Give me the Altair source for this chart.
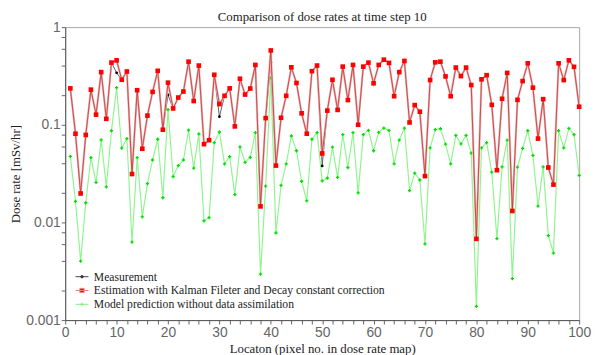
import altair as alt
import pandas as pd

locations = list(range(1, 101))

measurement = [
    0.236, 0.081, 0.0198, 0.0787, 0.229, 0.127, 0.346, 0.115, 0.433, 0.340,
    0.289, 0.351, 0.0313, 0.226, 0.0568, 0.124, 0.217, 0.357, 0.089, 0.202,
    0.147, 0.190, 0.219, 0.443, 0.175, 0.404, 0.0633, 0.0695, 0.325, 0.121,
    0.198, 0.236, 0.0962, 0.296, 0.204, 0.235, 0.410, 0.0146, 0.117, 0.436,
    0.0382, 0.118, 0.198, 0.388, 0.268, 0.131, 0.081, 0.354, 0.404, 0.0379,
    0.1396, 0.289, 0.142, 0.394, 0.179, 0.410, 0.100, 0.394, 0.433, 0.266,
    0.410, 0.464, 0.430, 0.196, 0.346, 0.450, 0.1056, 0.159, 0.136, 0.0298,
    0.287, 0.436, 0.443, 0.313, 0.196, 0.385, 0.315, 0.385, 0.255, 0.00679,
    0.292, 0.322, 0.160, 0.0343, 0.1845, 0.340, 0.0131, 0.180, 0.280, 0.426,
    0.240, 0.0722, 0.183, 0.0365, 0.0244, 0.426, 0.287, 0.457, 0.392, 0.153,
]

estimation = [
    0.236, 0.081, 0.0198, 0.0787, 0.229, 0.127, 0.346, 0.115, 0.433, 0.457,
    0.289, 0.351, 0.0313, 0.226, 0.0568, 0.124, 0.217, 0.357, 0.089, 0.270,
    0.147, 0.190, 0.219, 0.443, 0.175, 0.404, 0.0633, 0.0695, 0.325, 0.163,
    0.198, 0.236, 0.0962, 0.296, 0.204, 0.235, 0.410, 0.0146, 0.117, 0.577,
    0.0382, 0.118, 0.198, 0.388, 0.268, 0.131, 0.081, 0.354, 0.404, 0.0509,
    0.1396, 0.289, 0.142, 0.394, 0.179, 0.410, 0.100, 0.394, 0.433, 0.266,
    0.410, 0.464, 0.430, 0.196, 0.346, 0.450, 0.1056, 0.159, 0.136, 0.0298,
    0.287, 0.436, 0.443, 0.313, 0.196, 0.385, 0.315, 0.385, 0.255, 0.00679,
    0.292, 0.322, 0.160, 0.0343, 0.1845, 0.340, 0.0131, 0.180, 0.280, 0.426,
    0.240, 0.0722, 0.183, 0.0365, 0.0244, 0.426, 0.287, 0.457, 0.392, 0.153,
]

model = [
    0.0475, 0.0164, 0.00401, 0.0159, 0.046, 0.0257, 0.070, 0.0231, 0.0869, 0.240,
    0.0577, 0.0722, 0.00628, 0.046, 0.0114, 0.0250, 0.0436, 0.0711, 0.0179, 0.143,
    0.0294, 0.0382, 0.0436, 0.0883, 0.0360, 0.0805, 0.0104, 0.0112, 0.0658, 0.0843,
    0.0397, 0.0471, 0.0193, 0.0595, 0.0413, 0.0464, 0.0830, 0.00296, 0.0235, 0.303,
    0.0078, 0.0240, 0.0397, 0.0768, 0.0542, 0.0264, 0.0166, 0.0711, 0.0830, 0.0266,
    0.0285, 0.0590, 0.0289, 0.0793, 0.0365, 0.0830, 0.0201, 0.0793, 0.0877, 0.0542,
    0.0837, 0.0925, 0.0877, 0.0397, 0.0695, 0.0925, 0.0212, 0.0320, 0.0272, 0.00604,
    0.0581, 0.0890, 0.0911, 0.0633, 0.0397, 0.0780, 0.0638, 0.0780, 0.0513, 0.00138,
    0.0581, 0.0658, 0.0327, 0.00684, 0.0371, 0.0695, 0.00266, 0.0368, 0.0573, 0.0869,
    0.0486, 0.0147, 0.0371, 0.00733, 0.00486, 0.0869, 0.0581, 0.0918, 0.0793, 0.0303,
]

series_names = [
    "Measurement",
    "Estimation with Kalman Fileter and Decay constant correction",
    "Model prediction without data assimilation",
]

x_tick_values = list(range(0, 101, 2))
y_tick_values = [0.001, 0.002, 0.004, 0.006, 0.008,
                 0.01, 0.02, 0.04, 0.06, 0.08,
                 0.1, 0.2, 0.4, 0.6, 0.8, 1]

df_meas = pd.DataFrame({"x": locations, "v": measurement})
df_est = pd.DataFrame({"x": locations, "v": estimation})
df_model = pd.DataFrame({"x": locations, "v": model})
df_legend = pd.DataFrame({"x": [1, 1, 1], "v": [0.1, 0.1, 0.1], "s": series_names})

x_enc = alt.X(
    "x:Q",
    scale=alt.Scale(domain=[0, 100], nice=False, zero=False),
    axis=alt.Axis(
        title="Locaton (pixel no. in dose rate map)",
        values=x_tick_values,
        labelExpr="datum.value % 10 === 0 ? datum.label : ''",
        labelOverlap=False,
        labelFlush=False,
        labelPadding=2,
        titlePadding=3,
    ),
)
y_enc = alt.Y(
    "v:Q",
    scale=alt.Scale(type="log", domain=[0.001, 1], nice=False),
    axis=alt.Axis(
        title="Dose rate [mSv/hr]",
        values=y_tick_values,
        format=".3~f",
        labelExpr="abs(log(datum.value)/LN10 - round(log(datum.value)/LN10)) < 0.001 ? datum.label : ''",
        labelOverlap=False,
        labelPadding=1,
        titlePadding=3,
    ),
)

model_line = alt.Chart(df_model).mark_line(color="#90f590", strokeWidth=1.2).encode(x=x_enc, y=y_enc)
model_pts = alt.Chart(df_model).mark_point(shape="cross", filled=True, size=11, color="#00e000", opacity=1).encode(x=x_enc, y=y_enc)

meas_line = alt.Chart(df_meas).mark_line(color="#606060", strokeWidth=1).encode(x=x_enc, y=y_enc)
meas_pts = alt.Chart(df_meas).mark_circle(size=8, color="#000000", opacity=1).encode(x=x_enc, y=y_enc)

est_glow = alt.Chart(df_est).mark_line(color="#f5b5b5", strokeWidth=2.2).encode(x=x_enc, y=y_enc)
est_line = alt.Chart(df_est).mark_line(color="#b83030", strokeWidth=0.8).encode(x=x_enc, y=y_enc)
est_pts = alt.Chart(df_est).mark_square(size=22, color="#ff0000", opacity=1).encode(x=x_enc, y=y_enc)

legend_paths = [
    "M-1,0H1M-0.2,0A0.2,0.2 0 1,0 0.2,0A0.2,0.2 0 1,0 -0.2,0Z",
    "M-1,0H1M-0.33,-0.33H0.33V0.33H-0.33Z",
    "M-1,0H1M-0.28,0H0.28M0,-0.28V0.28",
]
legend_fill = ["#000000", "#ff0000", "#00e000"]
legend_stroke = ["#444444", "#f08080", "#80f080"]

legend_props = dict(
    title=None,
    orient="none",
    legendX=10,
    legendY=246,
    padding=0,
    rowPadding=0,
    symbolSize=169,
    symbolStrokeWidth=1,
    symbolOpacity=1,
    labelFont="Liberation Serif",
    labelFontSize=11.8,
    labelColor="#222222",
    labelLimit=500,
    labelOffset=5,
)

legend_layer = alt.Chart(df_legend).mark_point(size=169, filled=True, strokeWidth=1, opacity=1).encode(
    x=x_enc,
    y=y_enc,
    fill=alt.Fill("s:N", scale=alt.Scale(domain=series_names, range=legend_fill), legend=alt.Legend(**legend_props)),
    stroke=alt.Stroke("s:N", scale=alt.Scale(domain=series_names, range=legend_stroke), legend=alt.Legend(**legend_props)),
    shape=alt.Shape("s:N", scale=alt.Scale(domain=series_names, range=legend_paths), legend=alt.Legend(**legend_props)),
).transform_filter("false")

chart = alt.layer(
    model_line, model_pts, meas_line, meas_pts, est_glow, est_line, est_pts, legend_layer
).properties(
    width=521,
    height=297,
    title="Comparison of dose rates at time step 10",
    autosize=alt.AutoSizeParams(type="none"),
    padding={"left": 58, "top": 17, "right": 12, "bottom": 33},
).configure_view(
    stroke="#a8a8a8", strokeWidth=1
).configure_axis(
    grid=False,
    domainColor="#555555",
    tickColor="#666666",
    tickSize=4,
    labelColor="#666666",
    labelFont="Liberation Sans",
    labelFontSize=14,
    titleFont="Liberation Serif",
    titleFontSize=13,
    titleFontWeight="normal",
    titleColor="#222222",
).configure_title(
    font="Liberation Serif",
    fontSize=13,
    fontWeight="normal",
    color="#222222",
    offset=-4,
    anchor="middle",
)

chart.save("out.html", embed_options={"renderer": "svg", "actions": False})
